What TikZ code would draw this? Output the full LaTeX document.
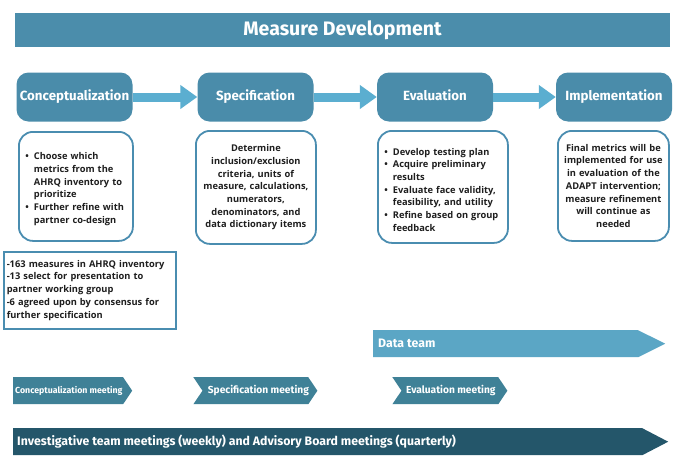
\documentclass[tikz,border=0pt]{standalone}
\usepackage{fontspec}
\setmainfont{Open Sans}
\newfontfamily\headfont{Fira Sans}
\usepackage{enumitem}
\usetikzlibrary{arrows.meta, positioning, shapes.symbols}
\definecolor{banner}{HTML}{4B8DAB}
\definecolor{stagefill}{HTML}{4A8CAA}
\definecolor{flowblue}{HTML}{5BAED0}
\definecolor{boxline}{HTML}{4A8DB0}
\definecolor{datablue}{HTML}{5BA6C5}
\definecolor{meetteal}{HTML}{3F8197}
\definecolor{deepteal}{HTML}{24566A}
\definecolor{ink}{HTML}{1E1E1E}
\tikzset{
  % Header banner
  banner/.style={
    fill=banner, text=white, inner sep=0pt,
    minimum width=655, minimum height=34,
    font=\headfont\bfseries\fontsize{19.5}{22}\selectfont,
  },
  % Phase boxes
  stage/.style={
    fill=stagefill, rounded corners=12pt, text=white,
    minimum width=116, minimum height=49, inner sep=0pt,
    text height=10pt, text depth=3pt,
    font=\headfont\bfseries\fontsize{13.3}{15}\selectfont,
  },
  % Description boxes
  note/.style={
    draw=boxline, line width=1.8pt, fill=white, rounded corners=14pt,
    anchor=north west, inner sep=0pt, align=center, text=ink,
    font=\bfseries\fontsize{9.3}{12.7}\selectfont,
  },
  tally/.style={
    note, rounded corners=0pt, line width=1.5pt, align=left,
  },
  % Fat arrows between phases
  flow/.style={line width=9pt, flowblue,
    -{Triangle[length=17pt, width=23pt]}},
  % Timeline bars
  bar/.style={
    signal, signal to=east, signal from=nowhere, fill=#1,
    anchor=north west, inner sep=0pt, minimum height=27,
  },
  bar/.default=meetteal,
  bartext/.style={text=white, anchor=west, inner sep=0pt,
    font=\headfont\bfseries\fontsize{12.3}{14}\selectfont},
  meettext/.style={text=white, inner sep=0pt,
    font=\headfont\bfseries\fontsize{10.2}{12}\selectfont},
}
\setlist[itemize]{label=\textbullet, leftmargin=11pt, labelsep=5pt, nosep}

\begin{document}
\begin{tikzpicture}[x=1pt, y=-1pt]
\useasboundingbox[fill=white] (0,0) rectangle (680,461);

% ====================================================================
% Title
% ====================================================================
\node[banner] (title) at (342.5,30) {Measure Development};

% ====================================================================
% Phases
% ====================================================================
\node[stage] (concept) at (74.5,97) {Conceptualization};
\node[stage] (spec)    at (255.5,97) {Specification};
\node[stage] (eval)    at (435,97) {Evaluation};
\node[stage] (impl)    at (614,97) {Implementation};

\draw[flow] (concept) -- (spec);
\draw[flow] (spec) -- (eval);
\draw[flow] (eval) -- (impl);

% ====================================================================
% Phase descriptions
% ====================================================================
\node[note, align=left, minimum width=114, minimum height=109,
      text width=106] (conceptnote) at (18,131) {%
  \begin{itemize}
    \item Choose which\\ metrics from the\\ AHRQ inventory to\\ prioritize
    \item Further refine with\\ partner co-design
  \end{itemize}};

\node[note, minimum width=120, minimum height=113, text width=118]
  (specnote) at (195,130)
  {Determine\\ inclusion/exclusion\\ criteria, units of\\
   measure, calculations,\\ numerators,\\ denominators, and\\
   data dictionary items};

\node[note, align=left, minimum width=130, minimum height=112,
      text width=122] (evalnote) at (377,130) {%
  \begin{itemize}
    \item Develop testing plan
    \item Acquire preliminary\\ results
    \item Evaluate face validity,\\ feasibility, and utility
    \item Refine based on group\\ feedback
  \end{itemize}};

\node[note, minimum width=111, minimum height=110, text width=107]
  (implnote) at (557,130)
  {Final metrics will be\\ implemented for use\\ in evaluation of the\\
   ADAPT intervention;\\ measure refinement\\ will continue as\\ needed};

% ====================================================================
% Inventory counts
% ====================================================================
\node[tally, minimum width=172, minimum height=77, text width=166]
  (counts) at (3,251)
  {-163 measures in AHRQ inventory\\ -13 select for presentation to\\
   partner working group\\ -6 agreed upon by consensus for\\
   further specification};

% ====================================================================
% Data team
% ====================================================================
\node[bar=datablue, minimum width=292, signal pointer angle=53]
  (data) at (373,330) {};
\node[bartext] at ([xshift=5pt]data.west) {Data team};

% ====================================================================
% Meetings
% ====================================================================
\node[bar, minimum width=119, signal pointer angle=112]
  (conceptmeet) at (13,377) {};
\node[meettext, anchor=west, font=\headfont\bfseries\fontsize{8.8}{11}\selectfont]
  at ([xshift=2pt]conceptmeet.west) {Conceptualization meeting};

\node[bar, signal from=west, minimum width=124, signal pointer angle=112]
  (specmeet) at (193,377) {};
\node[meettext] at ([xshift=3pt]specmeet.center) {Specification meeting};

\node[bar, signal from=west, minimum width=115, signal pointer angle=112]
  (evalmeet) at (392,377) {};
\node[meettext] at ([xshift=1pt]evalmeet.center) {Evaluation meeting};

% ====================================================================
% Standing meetings
% ====================================================================
\node[bar=deepteal, minimum width=655, signal pointer angle=55]
  (standing) at (13,428) {};
\node[bartext] at ([xshift=4pt]standing.west)
  {Investigative team meetings (weekly) and Advisory Board meetings (quarterly)};

\end{tikzpicture}
\end{document}
